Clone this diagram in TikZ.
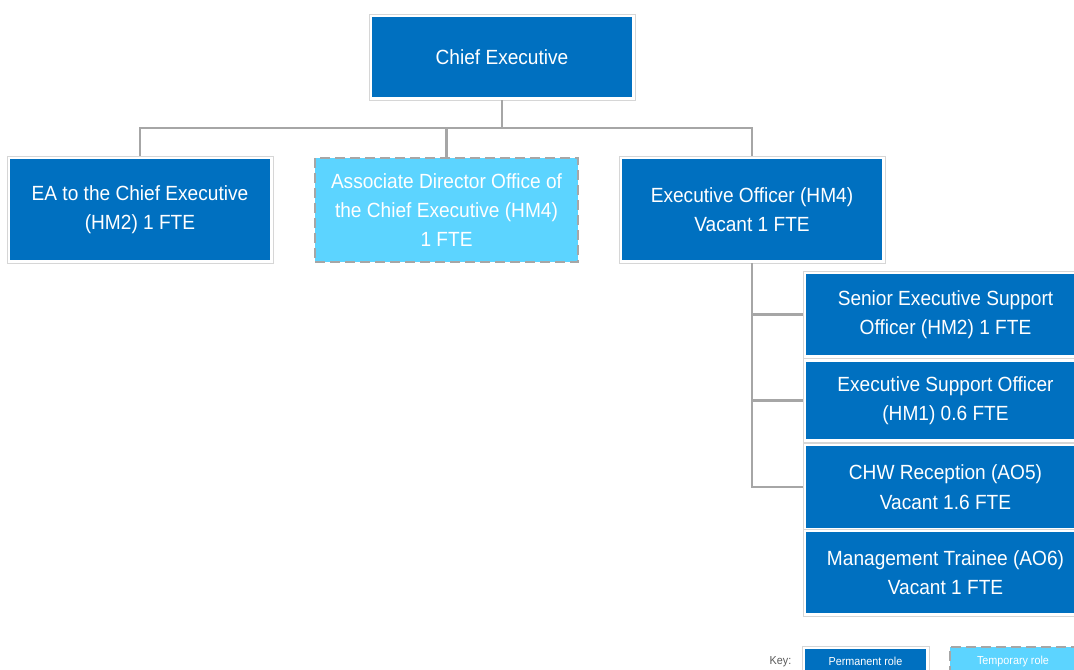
\documentclass[tikz,border=0pt]{standalone}
\usepackage{fontspec}
\setmainfont{Liberation Sans}[FakeStretch=0.93]
\definecolor{cblue}{HTML}{0070C0}
\definecolor{ccyan}{HTML}{5CD4FF}
\definecolor{crim}{HTML}{D6D6D6}
\definecolor{cline}{HTML}{A6A6A6}
\definecolor{ckey}{HTML}{595959}
\begin{document}
\begin{tikzpicture}[x=0.75pt,y=-0.75pt,
  perm/.style={draw=crim, line width=0.6pt, fill=white, inner sep=0pt,
    text=white, align=center, font=\fontsize{15.4}{22}\selectfont,
    path picture={\fill[cblue] ([shift={(2.5pt,-2.5pt)}]path picture bounding box.north west)
      rectangle ([shift={(-2.5pt,2.5pt)}]path picture bounding box.south east);}},
  temp/.style={draw=cline, line width=1.8pt, dash pattern=on 7.5pt off 3.75pt, fill=ccyan, inner sep=0pt,
    text=white, align=center, font=\fontsize{15.4}{22}\selectfont},
  conn/.style={draw=cline, line width=2pt},
  keytext/.style={font=\fontsize{8.7}{10}\selectfont}
]
\useasboundingbox (0,0) rectangle (1074,670);
\clip (0,0) rectangle (1074,670);
% boxes
\node[perm, minimum width=199.5pt, minimum height=64.5pt] (chief) at (502,57) {Chief Executive};
\node[perm, minimum width=199.5pt, minimum height=80.25pt] (ea) at (140,209.5) {EA to the Chief Executive\\(HM2) 1 FTE};
\node[temp, minimum width=197.25pt, minimum height=78pt] (assoc) at (446.5,210) {Associate Director Office of\\the Chief Executive (HM4)\\1 FTE};
\node[perm, minimum width=199.5pt, minimum height=80.25pt] (eo) at (752,209.5) {Executive Officer (HM4)\\Vacant 1 FTE};
\node[perm, minimum width=213.75pt, minimum height=65.25pt] (sen) at (945.5,314.5) {Senior Executive Support\\Officer (HM2) 1 FTE};
\node[perm, minimum width=213.75pt, minimum height=63pt] (eso) at (945.5,400.5) {Executive Support Officer\\(HM1) 0.6 FTE};
\node[perm, minimum width=213.75pt, minimum height=66pt] (chw) at (945.5,487) {CHW Reception (AO5)\\Vacant 1.6 FTE};
\node[perm, minimum width=213.75pt, minimum height=65.25pt] (mt) at (945.5,572.5) {Management Trainee (AO6)\\Vacant 1 FTE};
% connectors
\coordinate (bus) at (0,128);
\draw[conn] (chief.south) -- (chief.south |- bus);
\draw[conn] (ea.north) -- (ea.north |- bus) -| (eo.north);
\draw[conn] (assoc.north) -- (assoc.north |- bus);
\draw[conn] (eo.south) |- (chw.west);
\draw[conn] (eo.south |- sen.west) -- (sen.west);
\draw[conn] (eo.south |- eso.west) -- (eso.west);
% key
\node[keytext, text=ckey, anchor=east] (key) at (796,661.5) {Key:};
\node[perm, keytext, minimum width=95.25pt, minimum height=23.25pt] (kperm) at (865.5,661.5) {Permanent role};
\node[temp, keytext, minimum width=94.5pt, minimum height=21.75pt] (ktemp) at (1013,661.5) {Temporary role};
\end{tikzpicture}
\end{document}
